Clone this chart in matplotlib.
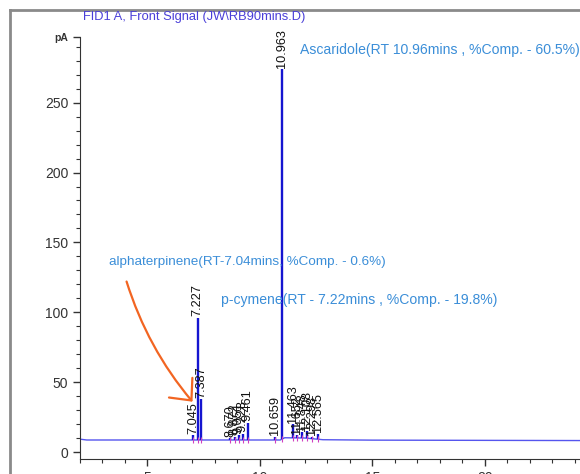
import numpy as np
import matplotlib
matplotlib.use("Agg")
import matplotlib.pyplot as plt
from matplotlib.lines import Line2D
from matplotlib.ticker import MultipleLocator

plt.rcParams['font.family'] = ['Liberation Sans', 'DejaVu Sans']

# peak retention times (min) and apex signal (pA)
rt = [7.045, 7.227, 7.387, 8.670, 8.872, 9.051, 9.228, 9.461,
      10.659, 10.963, 11.463, 11.652, 11.848, 12.108, 12.298, 12.565]
apex = [12, 96, 38, 10, 11, 12, 13, 21,
        11, 274, 20, 12, 14, 15, 11, 13]

# baseline of the trace
base_t = [2.0, 2.3, 7.0, 10.9, 11.1, 12.0, 12.8, 15.0, 24.3]
base_v = [9.2, 8.6, 8.6, 8.6, 10.2, 10.0, 8.8, 8.5, 8.2]

title = "FID1 A, Front Signal (JW\\RB90mins.D)"
notes = [
    ("Ascaridole(RT 10.96mins , %Comp. - 60.5%)", 11.77, 288),
    ("alphaterpinene(RT-7.04mins, %Comp. - 0.6%)", 3.31, 136),
    ("p-cymene(RT - 7.22mins , %Comp. - 19.8%)", 8.25, 109),
]

fig = plt.figure(figsize=(5.8, 4.74), dpi=100)
ax = fig.add_axes([80 / 580, 15 / 474, 1 - 80 / 580, (459 - 37) / 474])

ax.plot(base_t, base_v, color="#5555ee", lw=1.0, zorder=2)
base_at = np.interp(rt, base_t, base_v)
ax.vlines(rt, base_at, apex, color="#1515d0", lw=1.7, zorder=3)
ax.plot(rt, base_at, ls="none", marker="|", ms=4, color="#d040c0", mew=0.8, zorder=4)

for t, h in zip(rt, apex):
    ax.text(t, h + 1, f"{t:.3f}", rotation=90, ha="center", va="bottom",
            fontsize=9.2, color="#111111", zorder=5)

ax.set_xlim(2, (580 - 35.6) / 22.47)
ax.set_ylim(-5, 297)
ax.set_xticks([5, 10, 15, 20])
ax.xaxis.set_minor_locator(MultipleLocator(1))
ax.set_yticks([0, 50, 100, 150, 200, 250, 297])
ax.set_yticklabels(["0", "50", "100", "150", "200", "250", "pA"])
ax.yaxis.set_minor_locator(MultipleLocator(10))
ax.tick_params(which="major", length=5, width=1, color="#333333", labelsize=10,
               labelcolor="#333333")
ax.tick_params(which="minor", length=3, width=0.8, color="#333333")
ax.get_yticklabels()[-1].set_fontweight("bold")
ax.get_yticklabels()[-1].set_fontsize(7.5)
for s in ["top", "right"]:
    ax.spines[s].set_visible(False)
for s in ["left", "bottom"]:
    ax.spines[s].set_color("#333333")

sizes = [10.1, 9.7, 10.1]
for (txt, x, y), fs in zip(notes, sizes):
    ax.text(x, y, txt, ha="left", va="center", fontsize=fs, color="#3b8ed8", zorder=6)

ax.annotate("", xy=(7.0, 36), xytext=(4.07, 122),
            arrowprops=dict(arrowstyle="->,head_length=0.6,head_width=0.55",
                            connectionstyle="arc3,rad=0.1",
                            color="#f26522", lw=1.6, mutation_scale=20,
                            shrinkA=0, shrinkB=0), zorder=7)

fig.text(83 / 580, 1 - 17 / 474, title, ha="left", va="center",
         fontsize=9.3, color="#4a3fd8")

# surrounding screenshot frame
fig.add_artist(Line2D([10 / 580, 10 / 580], [0, 1 - 10 / 474], color="#8a8a8a", lw=2,
                      transform=fig.transFigure))
fig.add_artist(Line2D([10 / 580, 1], [1 - 10 / 474, 1 - 10 / 474], color="#8a8a8a", lw=2,
                      transform=fig.transFigure))

fig.savefig("out.png", dpi=100)
